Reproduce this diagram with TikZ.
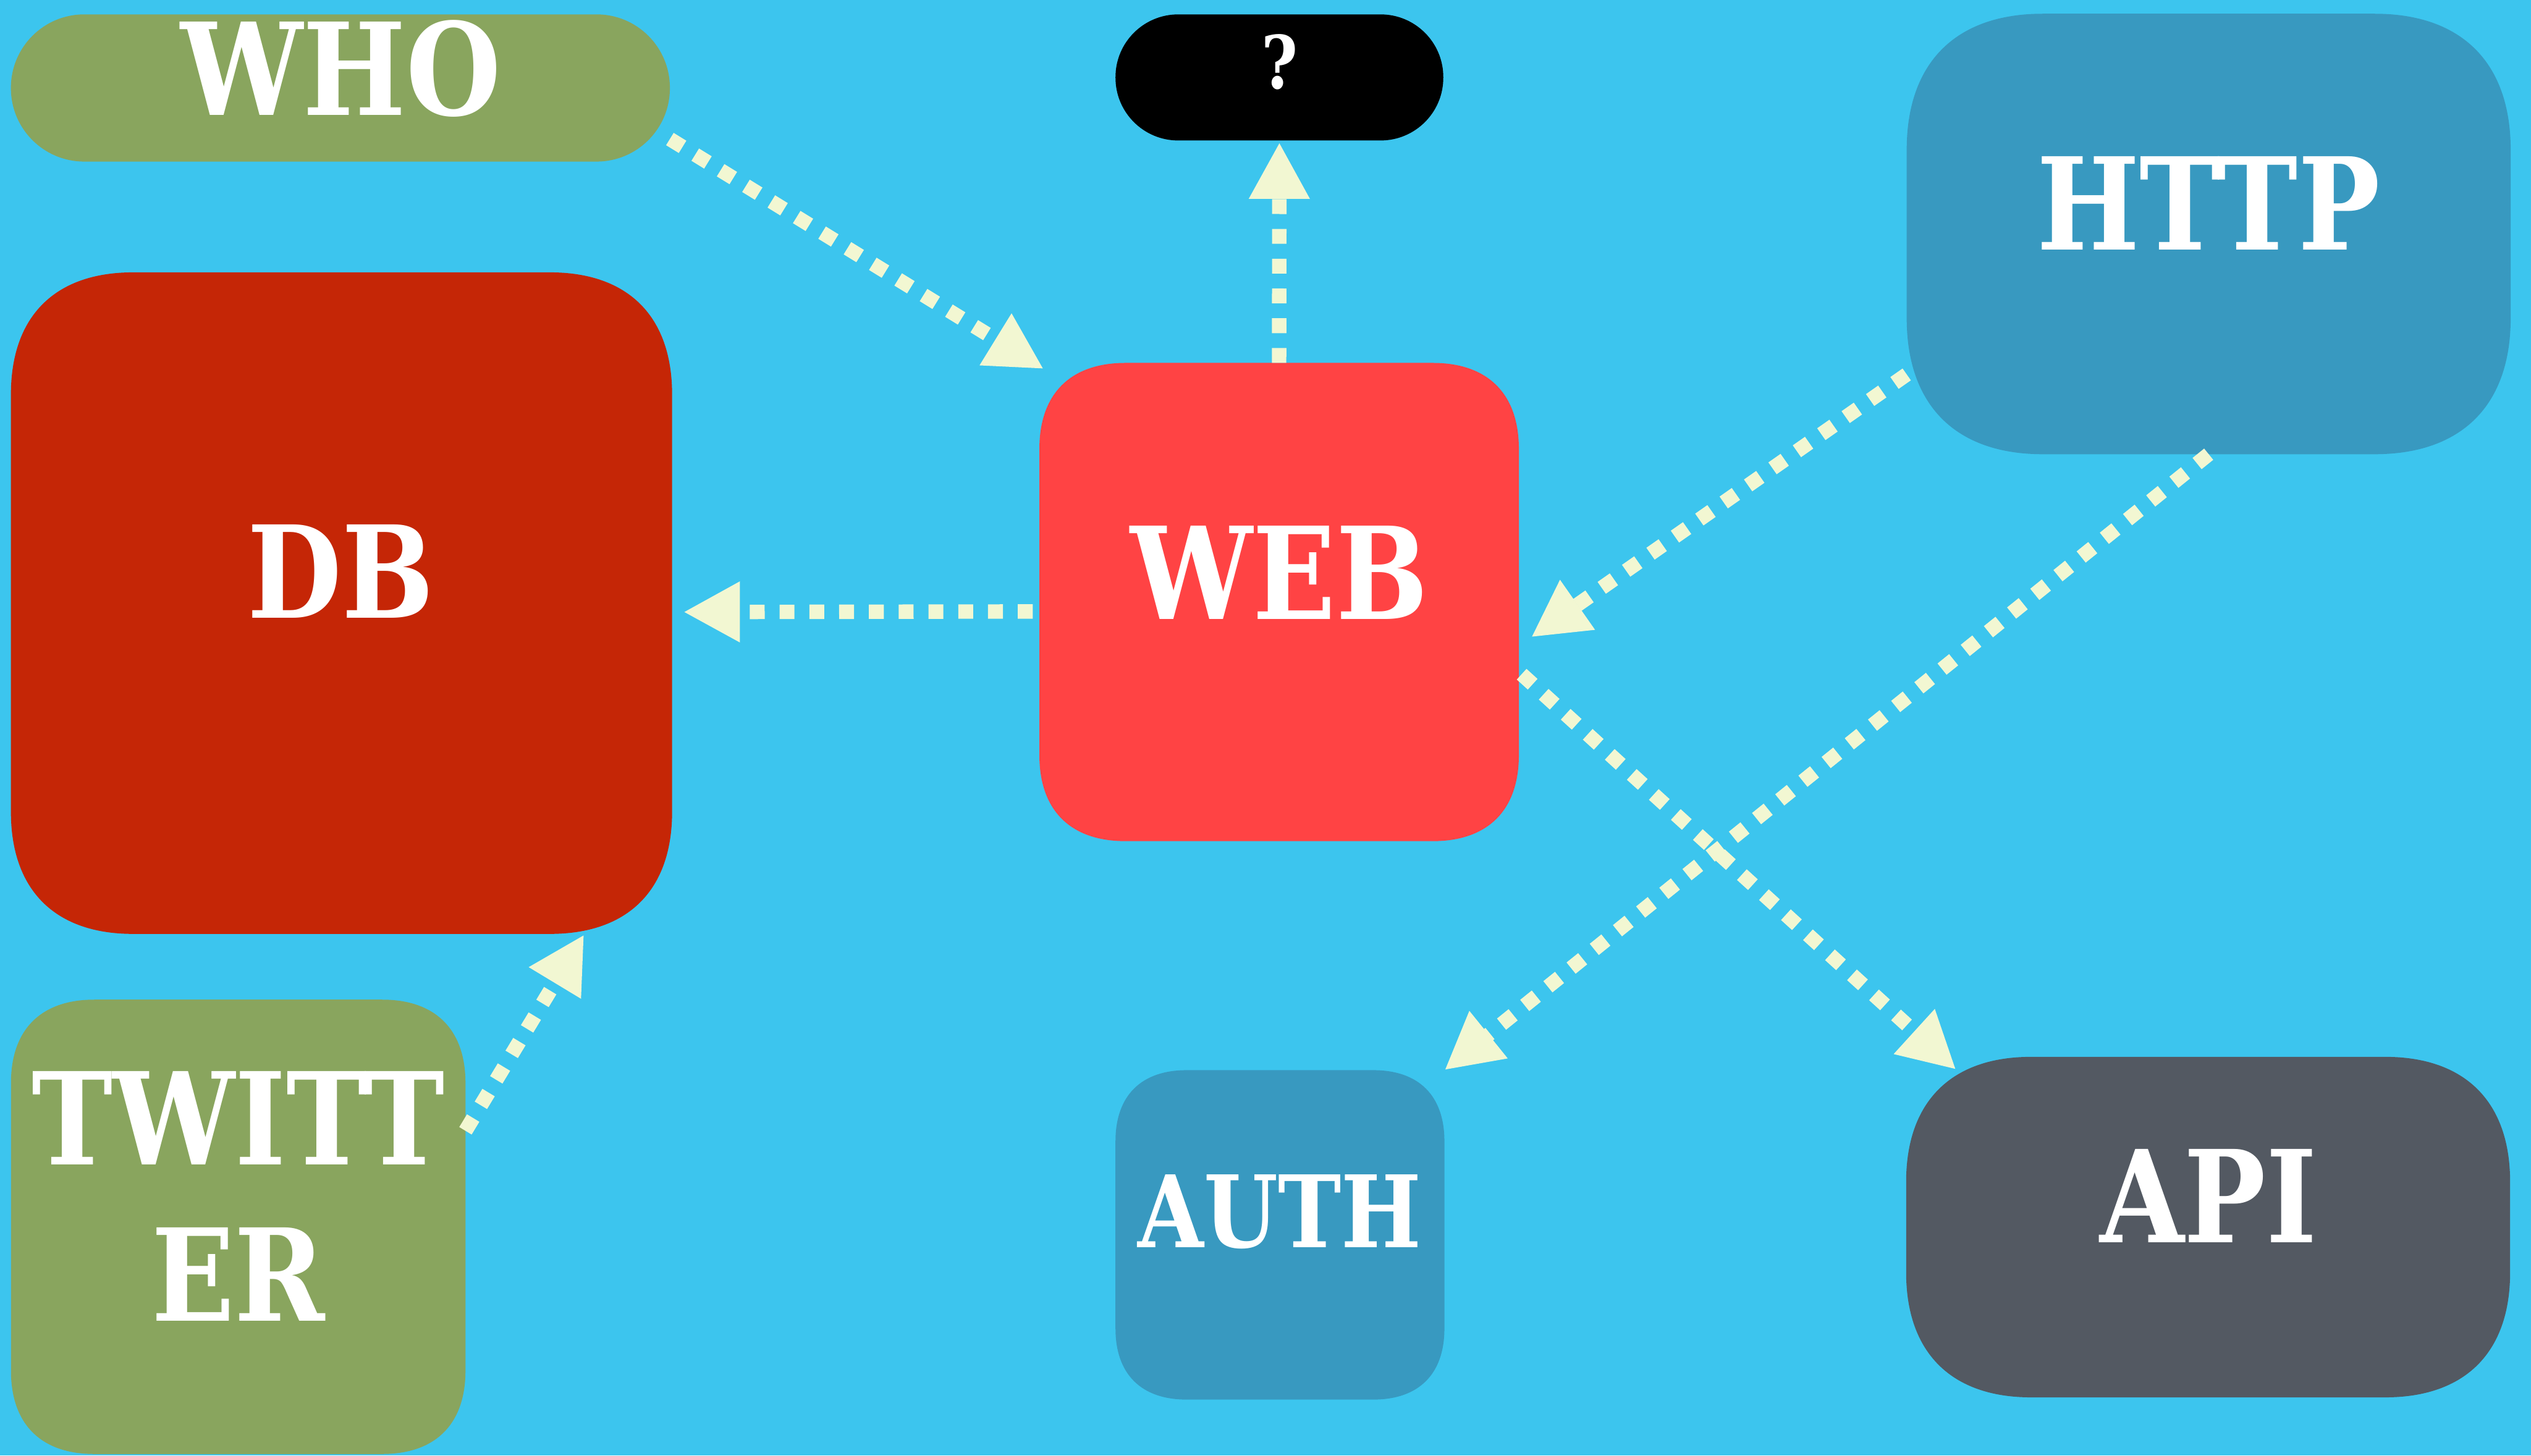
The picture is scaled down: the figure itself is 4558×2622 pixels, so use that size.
\documentclass[tikz,border=0pt]{standalone}
\usepackage{fontspec}
\setmainfont{DejaVu Serif}
\newfontfamily\lblfont[FakeStretch=0.85]{DejaVu Serif}
\usetikzlibrary{arrows.meta,calc}
\definecolor{bgc}{HTML}{3CC5EE}
\definecolor{greenc}{HTML}{89A55E}
\definecolor{dbred}{HTML}{C52606}
\definecolor{webred}{HTML}{FF4344}
\definecolor{bluec}{HTML}{3899C0}
\definecolor{grayc}{HTML}{535962}
\definecolor{cream}{HTML}{F2F7D2}
% squircle-like fill of a named rectangular node: #1 node, #2 corner extent, #3 colour
\newcommand\sqfill[3]{%
  \fill[#3] ($(#1.north west)+(0,#2)$)
    .. controls ($(#1.north west)+(0,0.36*#2)$) and ($(#1.north west)+(0.36*#2,0)$) .. ($(#1.north west)+(#2,0)$)
    -- ($(#1.north east)+(-#2,0)$)
    .. controls ($(#1.north east)+(-0.36*#2,0)$) and ($(#1.north east)+(0,0.36*#2)$) .. ($(#1.north east)+(0,#2)$)
    -- ($(#1.south east)+(0,-#2)$)
    .. controls ($(#1.south east)+(0,-0.36*#2)$) and ($(#1.south east)+(-0.36*#2,0)$) .. ($(#1.south east)+(-#2,0)$)
    -- ($(#1.south west)+(#2,0)$)
    .. controls ($(#1.south west)+(0.36*#2,0)$) and ($(#1.south west)+(0,-0.36*#2)$) .. ($(#1.south west)+(0,-#2)$)
    -- cycle;}
\begin{document}
\begin{tikzpicture}[x=0.01cm,y=-0.01cm,
  box/.style={rectangle,inner sep=0pt,outer sep=0pt},
  big/.style={text=white,inner sep=0pt,anchor=base,font=\lblfont\bfseries\fontsize{65.6}{80.2}\selectfont},
  small/.style={text=white,inner sep=0pt,anchor=base,font=\lblfont\bfseries\fontsize{51.2}{60}\selectfont},
  conn/.style={draw=cream,line width=0.26cm,dash pattern=on 0.268cm off 0.268cm,
    -{Triangle[length=1.02cm,width=1.02cm]}}]
\useasboundingbox (0,0) rectangle (4558,2622);
\fill[bgc] (0,0) rectangle (4558,2622);
% boxes
\node[box,fill=greenc,minimum width=11.86cm,minimum height=2.65cm,rounded corners=1.32cm] (who) at (613,158.5) {};
\node[box,fill=black,minimum width=5.90cm,minimum height=2.27cm,rounded corners=1.13cm] (q) at (2304,139.5) {};
\node[box,minimum width=10.87cm,minimum height=7.93cm] (http) at (3977.5,421.5) {};
\sqfill{http}{245}{bluec}
\node[box,minimum width=11.90cm,minimum height=11.91cm] (db) at (615,1086.5) {};
\sqfill{db}{220}{dbred}
\node[box,minimum width=8.63cm,minimum height=8.61cm] (web) at (2303.5,1084.5) {};
\sqfill{web}{155}{webred}
\node[box,minimum width=8.18cm,minimum height=8.18cm] (twitter) at (429,2210) {};
\sqfill{twitter}{150}{greenc}
\node[box,minimum width=5.92cm,minimum height=5.93cm] (auth) at (2305,2224.5) {};
\sqfill{auth}{128}{bluec}
\node[box,minimum width=10.87cm,minimum height=6.13cm] (api) at (3976.5,2210.5) {};
\sqfill{api}{225}{grayc}
% texts
\node[big] (whot) at (614,207) {WHO};
\node[text=white,inner sep=0pt,anchor=base,font=\lblfont\bfseries\fontsize{37.5}{45}\selectfont] (qt) at (2305,160) {?};
\node[big] (httpt) at (3977,450) {HTTP};
\node[big] (dbt) at (614,1113) {DB};
\node[big] (webt) at (2304,1116) {WEB};
\node[big,align=center] (twittert) at (429,2380) {TWITT\\ER};
\node[small] (autht) at (2305,2247) {AUTH};
\node[big] (apit) at (3977,2238) {API};
% connectors
\draw[conn] ($(who.east)+(0,92)$) -- ($(web.north west)+(8,11)$);
\draw[conn,shorten >=0.03cm] (web.north) -- (q.south);
\draw[conn] ($(web.west)+(-12,17)$) -- ($(db.east)+(20,16)$);
\draw[conn] ($(http.west)+(0,253)$) -- ($(web.east)+(22,63.5)$);
\draw[conn] (http.south) -- (auth.north east);
\draw[conn] ($(web.east)+(5,130)$) -- ($(api.north west)+(90,23)$);
\draw[conn] ($(twitter.east)+(0,-173)$) -- ($(db.south)+(437,1)$);
\end{tikzpicture}
\end{document}
